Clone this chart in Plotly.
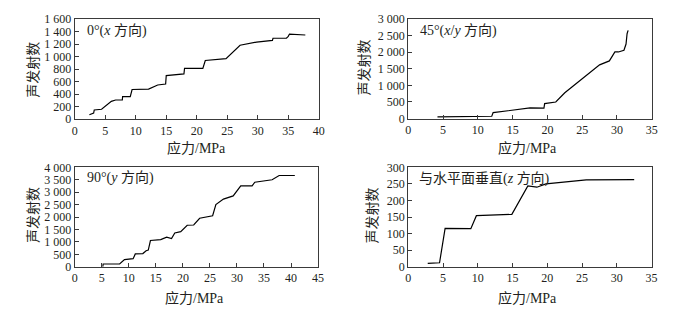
import plotly.graph_objects as go

W, H = 679, 318

# ---- data ----
x0_stress = [2.4, 3.1, 3.2, 4.4, 6.0, 6.7, 7.8, 7.85, 9.1, 9.4, 12.1, 13.6, 14.9, 15.0, 17.9, 18.0,
             21.0, 21.4, 24.8, 27.1, 29.8, 32.4, 32.5, 34.7, 35.0, 35.2, 37.8]
y0_count = [70, 96, 147, 158, 285, 306, 306, 361, 361, 474, 480, 546, 561, 697, 723, 811,
            811, 938, 968, 1182, 1233, 1259, 1294, 1294, 1325, 1361, 1346]

x45_stress = [4.2, 9.9, 12.0, 12.2, 15.1, 17.5, 19.5, 19.6, 21.2, 22.5, 27.5, 28.9, 29.7, 30.2,
              31.0, 31.3, 31.45, 31.6]
y45_count = [49, 58, 70, 180, 261, 320, 312, 450, 500, 780, 1620, 1740, 2010, 2010,
             2060, 2250, 2560, 2660]

x90_stress = [5.2, 5.25, 7.4, 8.3, 9.2, 10.8, 11.2, 12.6, 13.2, 13.6, 14.0, 15.9, 17.0, 17.9,
              18.5, 19.6, 20.8, 22.0, 23.1, 25.5, 26.1, 27.5, 29.3, 30.7, 32.8, 33.3, 36.5,
              37.8, 40.7]
y90_count = [0, 110, 110, 110, 285, 323, 515, 530, 645, 670, 1055, 1090, 1190, 1130,
             1360, 1410, 1670, 1680, 1950, 2050, 2500, 2720, 2850, 3250, 3250, 3400, 3500,
             3670, 3670]

xz_stress = [2.8, 4.5, 5.3, 9.0, 9.8, 14.9, 17.2, 18.5, 19.8, 22.7, 25.6, 32.5]
yz_count = [10, 12, 116, 115, 154, 158, 244, 240, 250, 256, 262, 263]

x0_ticks = [0, 5, 10, 15, 20, 25, 30, 35, 40]
y0_ticks = [0, 200, 400, 600, 800, 1000, 1200, 1400, 1600]
y0_labels = ["0", "200", "400", "600", "800", "1 000", "1 200", "1 400", "1 600"]
x45_ticks = [0, 5, 10, 15, 20, 25, 30, 35]
y45_ticks = [0, 500, 1000, 1500, 2000, 2500, 3000]
y45_labels = ["0", "500", "1 000", "1 500", "2 000", "2 500", "3 000"]
x90_ticks = [0, 5, 10, 15, 20, 25, 30, 35, 40, 45]
y90_ticks = [0, 500, 1000, 1500, 2000, 2500, 3000, 3500, 4000]
y90_labels = ["0", "500", "1 000", "1 500", "2 000", "2 500", "3 000", "3 500", "4 000"]
xz_ticks = [0, 5, 10, 15, 20, 25, 30, 35]
yz_ticks = [0, 50, 100, 150, 200, 250, 300]
yz_labels = ["0", "50", "100", "150", "200", "250", "300"]

panel_titles = ["0°(<i>x</i> 方向)", "45°(<i>x</i>/<i>y</i> 方向)", "90°(<i>y</i> 方向)",
                "与水平面垂直(<i>z</i> 方向)"]
x_title = "应力/MPa"
y_title = "声发射数"

FONT = "Liberation Serif, Noto Sans CJK SC"
INK = "#231f20"

panels = [
    dict(x=x0_stress, y=y0_count, xt=x0_ticks, yt=y0_ticks, yl=y0_labels,
         xr=[0, 40], yr=[0, 1600], box=(72.7, 320.0, 12.7, 117.3),
         ytit=(31, 66), xtit=(196, 147), lab=(83, 25)),
    dict(x=x45_stress, y=y45_count, xt=x45_ticks, yt=y45_ticks, yl=y45_labels,
         xr=[0, 35], yr=[0, 3000], box=(410.7, 657.5, 12.7, 116.7),
         ytit=(366, 63), xtit=(532, 147), lab=(421, 25)),
    dict(x=x90_stress, y=y90_count, xt=x90_ticks, yt=y90_ticks, yl=y90_labels,
         xr=[0, 45], yr=[0, 4000], box=(72.7, 319.3, 167.7, 271.7),
         ytit=(31, 218), xtit=(194, 304), lab=(83, 179)),
    dict(x=xz_stress, y=yz_count, xt=xz_ticks, yt=yz_ticks, yl=yz_labels,
         xr=[0, 35], yr=[0, 300], box=(410.7, 657.3, 167.7, 271.7),
         ytit=(374, 218), xtit=(532, 304), lab=(420, 179)),
]

fig = go.Figure()
annotations = []
layout = {}
for i, p in enumerate(panels):
    n = "" if i == 0 else str(i + 1)
    fig.add_trace(go.Scatter(x=p["x"], y=p["y"], mode="lines",
                             line=dict(color="black", width=1.2),
                             xaxis="x" + n, yaxis="y" + n, showlegend=False,
                             hoverinfo="skip"))
    l, r, t, b = p["box"]
    common = dict(showline=True, linecolor="#3a3a3a", linewidth=1, mirror=True,
                  ticks="inside", ticklen=4, tickwidth=1, tickcolor="#3a3a3a",
                  showgrid=False, zeroline=False,
                  tickfont=dict(family=FONT, size=12, color=INK))
    layout["xaxis" + n] = dict(common, domain=[l / W, r / W], range=p["xr"],
                               tickvals=p["xt"], ticktext=[str(v) for v in p["xt"]],
                               anchor="y" + n)
    layout["yaxis" + n] = dict(common, domain=[1 - b / H, 1 - t / H], range=p["yr"],
                               tickvals=p["yt"], ticktext=p["yl"], anchor="x" + n)
    annotations.append(dict(text=panel_titles[i], x=p["lab"][0] / W, y=1 - p["lab"][1] / H,
                            xref="paper", yref="paper", xanchor="left", yanchor="middle",
                            showarrow=False, font=dict(family=FONT, size=14, color=INK)))
    annotations.append(dict(text=x_title, x=p["xtit"][0] / W, y=1 - p["xtit"][1] / H,
                            xref="paper", yref="paper", xanchor="center", yanchor="middle",
                            showarrow=False, font=dict(family=FONT, size=14, color=INK)))
    annotations.append(dict(text=y_title, x=p["ytit"][0] / W, y=1 - p["ytit"][1] / H,
                            xref="paper", yref="paper", xanchor="center", yanchor="middle",
                            textangle=-90, showarrow=False,
                            font=dict(family=FONT, size=14, color=INK)))

fig.update_layout(width=W, height=H, margin=dict(l=0, r=0, t=0, b=0),
                  paper_bgcolor="white", plot_bgcolor="white",
                  annotations=annotations, **layout)
fig.write_html("out.html", config={"displayModeBar": False},
               post_script="document.body.style.margin='0';document.body.style.overflow='hidden';")
